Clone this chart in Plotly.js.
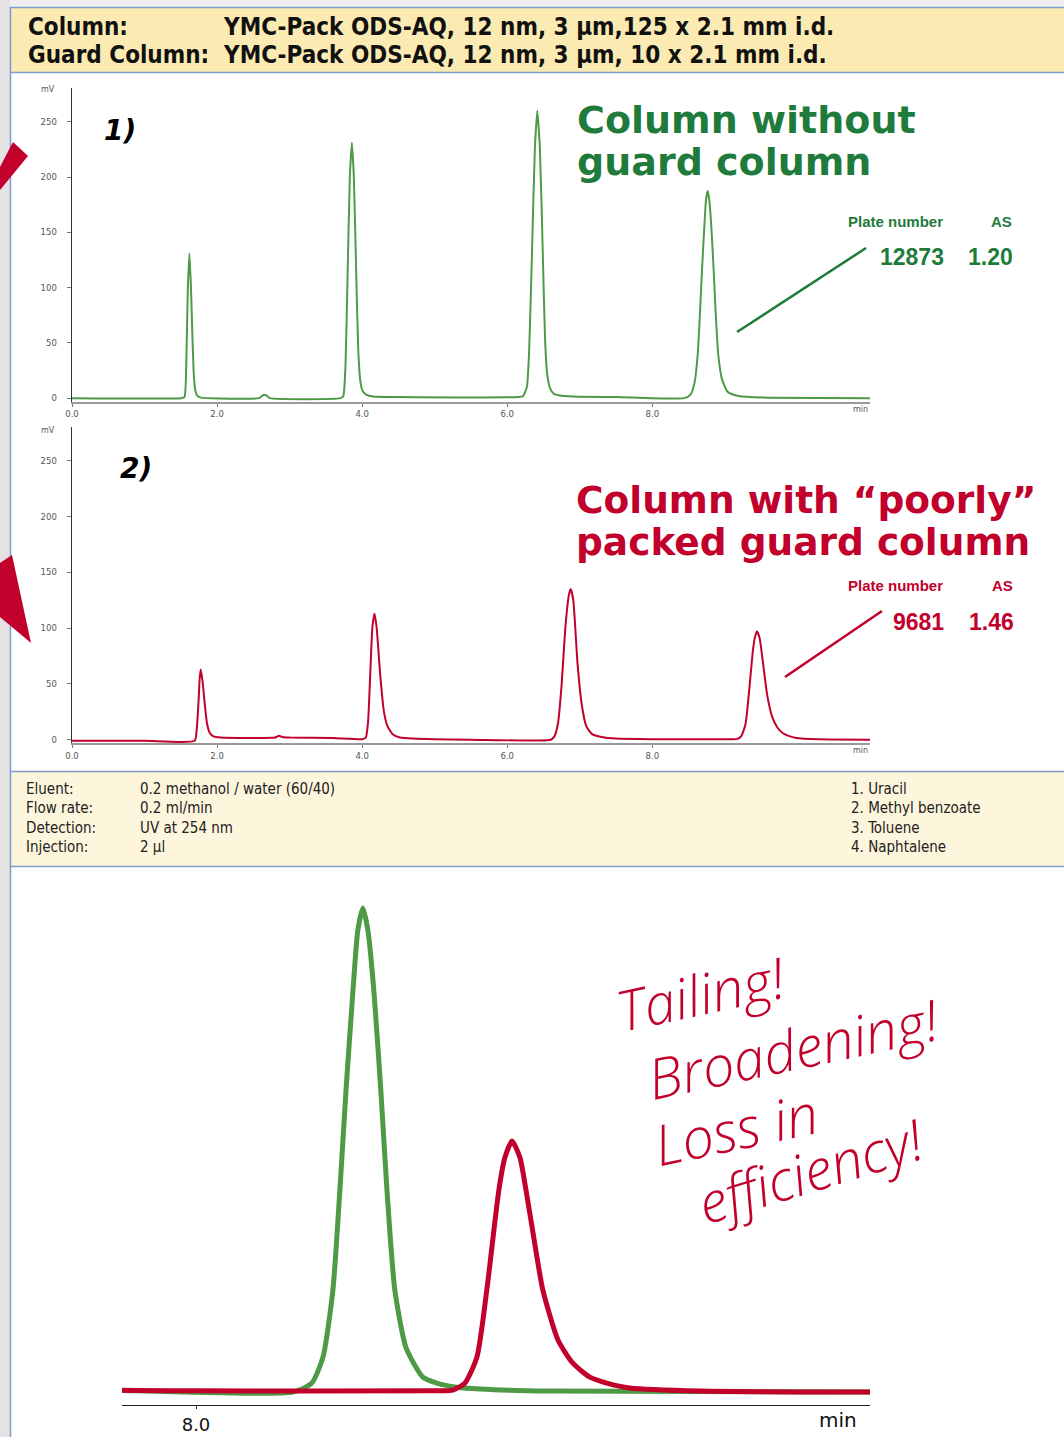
<!DOCTYPE html>
<html>
<head>
<meta charset="utf-8">
<script src="https://cdn.plot.ly/plotly-3.0.1.min.js"></script>
<style>html,body{margin:0;padding:0;background:#fff;}#chart{width:1064px;height:1437px;}</style>
</head>
<body>
<div id="chart"></div>
<script>
// ---------- data ----------
// Run 1: column without guard column (time in min, signal in mV)
const tGreen = [0, 1.50, 1.55, 1.575, 1.595, 1.618, 1.64, 1.66, 1.68, 1.70, 1.73, 1.78, 1.90,
  2.58, 2.62, 2.65, 2.69, 2.73,
  3.70, 3.74, 3.77, 3.80, 3.83, 3.858, 3.885, 3.917, 3.945, 3.975, 4.01, 4.06, 4.15, 4.50,
  6.15, 6.22, 6.27, 6.30, 6.34, 6.38, 6.414, 6.45, 6.49, 6.52, 6.55, 6.59, 6.64, 6.72, 6.90, 7.50,
  8.443, 8.529, 8.580, 8.625, 8.657, 8.685, 8.717, 8.739, 8.762, 8.785, 8.812, 8.844, 8.872, 8.908,
  8.960, 9.036, 9.100, 9.191, 9.297, 9.616, 11.1];
const mvGreen = [0, 0, 1, 30, 95, 131, 100, 55, 20, 7, 2, 0.5, 0,
  0, 2, 3, 2, 0,
  0, 2, 30, 115, 200, 231, 200, 115, 45, 15, 6, 3, 1.5, 1,
  1, 2, 10, 40, 130, 225, 260, 225, 130, 55, 22, 9, 4, 2.5, 1.5, 1,
  0, 3.5, 13.6, 39.5, 78.3, 117, 155.8, 179, 187.6, 179, 155.8, 117, 78.3, 39.5,
  17, 5.8, 3.5, 1.9, 1.2, 0.4, 0];

// Run 2: column with "poorly" packed guard column
const tRed = [0, 1.00, 1.69, 1.72, 1.745, 1.76, 1.775, 1.80, 1.83, 1.86, 1.90, 1.95, 2.05,
  2.80, 2.85, 2.90, 3.00, 3.60,
  4.00, 4.05, 4.08, 4.11, 4.14, 4.17, 4.20, 4.25, 4.30, 4.35, 4.42, 4.52, 4.70, 5.50,
  6.60, 6.65, 6.70, 6.75, 6.80, 6.85, 6.875, 6.91, 6.97, 7.03, 7.09, 7.17, 7.30, 7.50, 8.00, 9.10,
  9.173, 9.228, 9.283, 9.328, 9.383, 9.411, 9.443, 9.479, 9.507, 9.557, 9.584, 9.653, 9.721,
  9.799, 9.876, 9.981, 10.301, 11.1];
const mvRed = [-1, -1, -1, 10, 35, 55, 63, 52, 32, 15, 6, 3, 2,
  2, 3.5, 2.5, 2, 1.5,
  0.5, 2, 15, 57, 100, 113, 100, 57, 25, 12, 5, 2, 1, 0,
  0, 3, 15, 50, 100, 130, 135, 125, 67, 30, 12, 5, 2.5, 1, 0.5, 0.5,
  0.8, 3.5, 13.6, 39.5, 78.3, 91, 97.3, 91, 78.3, 52.3, 39.5, 20.2, 11.2,
  5.8, 3.5, 1.6, 0.4, 0];

const xTickVals = [0, 2, 4, 6, 8];
const xTickText = ['0.0', '2.0', '4.0', '6.0', '8.0'];
const yTickVals = [0, 50, 100, 150, 200, 250];
const zoomTickVals = [8];
const zoomTickText = ['8.0'];

const compounds = ['1. Uracil', '2. Methyl benzoate', '3. Toluene', '4. Naphtalene'];
const condLabels = ['Eluent:', 'Flow rate:', 'Detection:', 'Injection:'];
const condValues = ['0.2 methanol / water (60/40)', '0.2 ml/min', 'UV at 254 nm', '2 µl'];
const plateGreen = ['12873', '1.20'];
const plateRed = ['9681', '1.46'];
const notes = ['Tailing!', 'Broadening!', 'Loss in', 'efficiency!'];

// ---------- layout helpers ----------
const W = 1064, H = 1437;
const X = p => p / W;
const Y = p => 1 - p / H;

const GREEN_LINE = '#4e9a47', GREEN_TEXT = '#1f7b3b', RED = '#c1002b', BLUE = '#7e9dcb';
const tickFont = {family: 'DejaVu Sans, sans-serif', size: 8.5, color: '#555'};

const traces = [
  {x: tGreen, y: mvGreen, xaxis: 'x', yaxis: 'y', mode: 'lines', line: {color: GREEN_LINE, width: 2, shape: 'spline', smoothing: 0.5}, hoverinfo: 'skip'},
  {x: tRed, y: mvRed, xaxis: 'x2', yaxis: 'y2', mode: 'lines', line: {color: RED, width: 2, shape: 'spline', smoothing: 0.5}, hoverinfo: 'skip'},
  {x: tGreen, y: mvGreen, xaxis: 'x3', yaxis: 'y3', mode: 'lines', line: {color: GREEN_LINE, width: 5, shape: 'spline', smoothing: 0.6}, hoverinfo: 'skip'},
  {x: tRed, y: mvRed, xaxis: 'x3', yaxis: 'y3', mode: 'lines', line: {color: RED, width: 5, shape: 'spline', smoothing: 0.6}, hoverinfo: 'skip'}
];

function xAx(anchor) {
  return {domain: [X(72), X(870)], range: [0, 11.0], anchor: anchor,
    showgrid: false, zeroline: false, showline: true, linecolor: '#9a9a9a', linewidth: 2,
    tickvals: xTickVals, ticktext: xTickText, ticks: 'outside', ticklen: 3, tickcolor: '#777',
    tickfont: tickFont, fixedrange: true};
}
function yAx(dom, anchor) {
  return {domain: dom, range: [-3.2, 280.5], anchor: anchor,
    showgrid: false, zeroline: false, showline: true, linecolor: '#333', linewidth: 1.5,
    tickvals: yTickVals, ticks: 'outside', ticklen: 4, tickcolor: '#777',
    ticklabelstandoff: 8, tickfont: tickFont, fixedrange: true};
}

const ann = [];
function txt(text, x, y, font, opts) {
  ann.push(Object.assign({text: text, x: X(x), y: Y(y), xref: 'paper', yref: 'paper',
    showarrow: false, xanchor: 'left', yanchor: 'middle', font: font, borderpad: 0}, opts || {}));
}
const hdrFont = {family: 'Liberation Sans Narrow, DejaVu Sans Condensed, sans-serif', size: 24, color: '#111', weight: 700};
txt('Column:', 27, 27, hdrFont);
txt('YMC-Pack ODS-AQ, 12 nm, 3 µm,125 x 2.1 mm i.d.', 222, 27, hdrFont);
txt('Guard Column:', 27, 55, hdrFont);
txt('YMC-Pack ODS-AQ, 12 nm, 3 µm, 10 x 2.1 mm i.d.', 222, 55, hdrFont);

const smallFont = {family: 'DejaVu Sans, sans-serif', size: 8, color: '#555'};
txt('mV', 48, 90, smallFont, {xanchor: 'center'});
txt('mV', 48, 430, smallFont, {xanchor: 'center'});
txt('min', 860, 409, smallFont, {xanchor: 'center'});
txt('min', 860, 750, smallFont, {xanchor: 'center'});

const numFont = {family: 'DejaVu Sans, sans-serif', size: 28, color: '#000', weight: 700, style: 'italic'};
txt('1)', 103, 130, numFont);
txt('2)', 119, 468, numFont);

const titleG = {family: 'DejaVu Sans, sans-serif', size: 38, color: GREEN_TEXT, weight: 700};
txt('Column without', 576, 120, titleG);
txt('guard column', 576, 162, titleG);
const titleR = {family: 'DejaVu Sans, sans-serif', size: 37.5, color: RED, weight: 700};
txt('Column with “poorly”', 575, 500, titleR);
txt('packed guard column', 575, 542, titleR);

const plateG = {family: 'Liberation Sans, sans-serif', size: 15, color: GREEN_TEXT, weight: 700};
txt('Plate number', 847, 221, plateG);
txt('AS', 1013, 221, plateG, {xanchor: 'right'});
const valG = {family: 'Liberation Sans, sans-serif', size: 23, color: GREEN_TEXT, weight: 700};
txt(plateGreen[0], 945, 257, valG, {xanchor: 'right'});
txt(plateGreen[1], 1014, 257, valG, {xanchor: 'right'});
const plateR = {family: 'Liberation Sans, sans-serif', size: 15, color: RED, weight: 700};
txt('Plate number', 847, 586, plateR);
txt('AS', 1014, 586, plateR, {xanchor: 'right'});
const valR = {family: 'Liberation Sans, sans-serif', size: 23, color: RED, weight: 700};
txt(plateRed[0], 945, 622, valR, {xanchor: 'right'});
txt(plateRed[1], 1015, 622, valR, {xanchor: 'right'});

const infoFont = {family: 'Liberation Sans Narrow, DejaVu Sans Condensed, sans-serif', size: 15, color: '#222'};
for (let i = 0; i < 4; i++) {
  const yy = 789 + i * 19.3;
  txt(condLabels[i], 25, yy, infoFont);
  txt(condValues[i], 139, yy, infoFont);
  txt(compounds[i], 850, yy, infoFont);
}

txt('min', 838, 1420, {family: 'DejaVu Sans, sans-serif', size: 20, color: '#111'}, {xanchor: 'center'});

const noteFont = {family: 'Open Sans, Noto Sans, sans-serif', size: 56, color: RED, weight: 300, style: 'italic'};
txt(notes[0], 700, 993, noteFont, {xanchor: 'center', textangle: -12});
txt(notes[1], 793, 1048, noteFont, {xanchor: 'center', textangle: -12});
txt(notes[2], 735, 1128, noteFont, {xanchor: 'center', textangle: -12});
txt(notes[3], 810, 1170, noteFont, {xanchor: 'center', textangle: -17});

function rect(x0, y0, x1, y1, fill) {
  return {type: 'rect', xref: 'paper', yref: 'paper', x0: X(x0), x1: X(x1), y0: Y(y1), y1: Y(y0),
    fillcolor: fill, line: {width: 0}, layer: 'below'};
}
function seg(x0, y0, x1, y1, color, w, layer) {
  return {type: 'line', xref: 'paper', yref: 'paper', x0: X(x0), x1: X(x1), y0: Y(y0), y1: Y(y1),
    line: {color: color, width: w}, layer: layer || 'above'};
}
function poly(pts, fill) {
  const d = pts.map((p, i) => (i ? 'L' : 'M') + X(p[0]) + ',' + Y(p[1])).join(' ') + ' Z';
  return {type: 'path', xref: 'paper', yref: 'paper', path: d, fillcolor: fill, line: {width: 0}, layer: 'above'};
}
const shapes = [
  rect(0, 0, W, 7, '#efefef'),
  rect(0, 0, 10, H, '#e4e2e2'),
  rect(11, 8, W, 72, '#fbebb2'),
  rect(11, 772, W, 866, '#fdf5dc'),
  seg(11, 7.5, W, 7.5, BLUE, 1.5),
  seg(11, 72.5, W, 72.5, BLUE, 1.5),
  seg(11, 771.5, W, 771.5, BLUE, 1.5),
  seg(11, 866.5, W, 866.5, BLUE, 1.5),
  seg(10.5, 7, 10.5, H, BLUE, 1.5),
  seg(737, 332, 866, 248, GREEN_TEXT, 2.5),
  seg(785, 677, 882, 611, RED, 2.5),
  poly([[0, 167], [13, 142], [28, 156], [0, 190]], RED),
  poly([[0, 563], [12, 555], [31, 643], [0, 617]], RED)
];

const layout = {
  width: W, height: H, margin: {l: 0, r: 0, t: 0, b: 0},
  paper_bgcolor: '#ffffff', plot_bgcolor: 'rgba(0,0,0,0)', showlegend: false,
  xaxis: xAx('y'),
  yaxis: yAx([Y(401.7), Y(88)], 'x'),
  xaxis2: xAx('y2'),
  yaxis2: yAx([Y(743.3), Y(426.7)], 'x2'),
  xaxis3: {domain: [X(122), X(870)], range: [7.662, 11.078], anchor: 'y3',
    showgrid: false, zeroline: false, showline: true, linecolor: '#222', linewidth: 1.2,
    tickvals: zoomTickVals, ticktext: zoomTickText, ticks: 'outside', ticklen: 3, tickcolor: '#222',
    tickfont: {family: 'DejaVu Sans, sans-serif', size: 18, color: '#111'}, fixedrange: true},
  yaxis3: {domain: [Y(1405), Y(880)], range: [-5, 198.5], anchor: 'x3', visible: false, fixedrange: true},
  annotations: ann,
  shapes: shapes
};

Plotly.newPlot('chart', traces, layout, {displayModeBar: false, staticPlot: true});
</script>
</body>
</html>
